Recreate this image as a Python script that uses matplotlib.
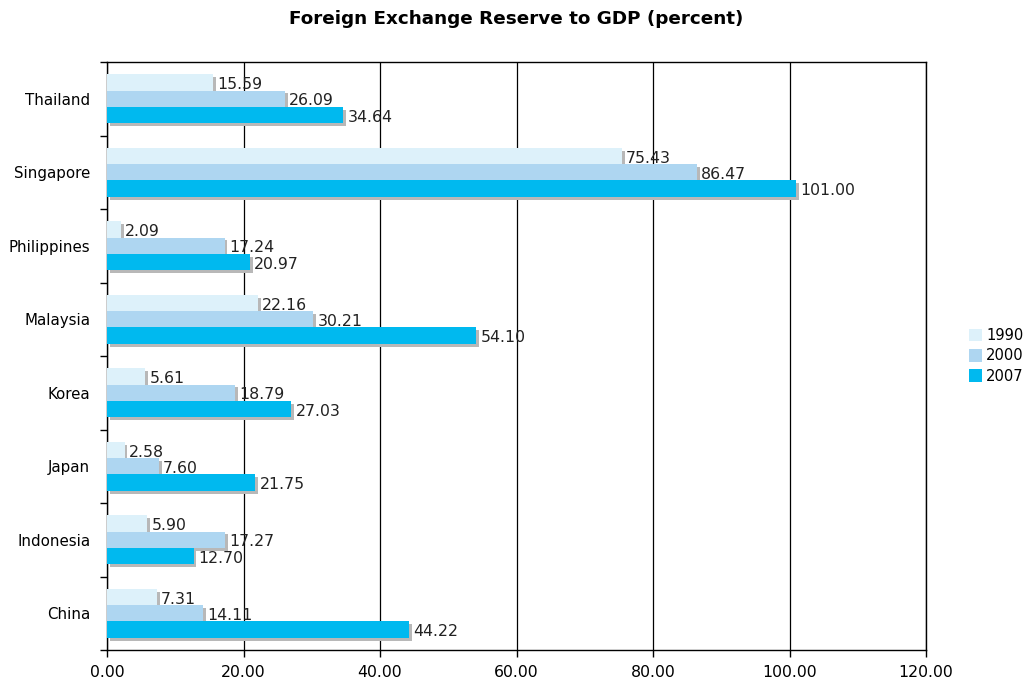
import matplotlib.pyplot as plt
import matplotlib.patheffects as pe
from matplotlib.patches import Patch
import numpy as np

countries = ["China", "Indonesia", "Japan", "Korea", "Malaysia",
             "Philippines", "Singapore", "Thailand"]
years = ["1990", "2000", "2007"]
reserves_1990 = [7.31, 5.90, 2.58, 5.61, 22.16, 2.09, 75.43, 15.59]
reserves_2000 = [14.11, 17.27, 7.60, 18.79, 30.21, 17.24, 86.47, 26.09]
reserves_2007 = [44.22, 12.70, 21.75, 27.03, 54.10, 20.97, 101.00, 34.64]

colors = ["#DDF1FA", "#AED6F1", "#00B9EF"]
series = [reserves_1990, reserves_2000, reserves_2007]

plt.rcParams["font.family"] = ["DejaVu Sans"]

fig = plt.figure(figsize=(10.33, 6.83), dpi=100)
ax = fig.add_axes([107 / 1033, 1 - 650 / 683, (926 - 107) / 1033, (650 - 62) / 683])

y = np.arange(len(countries))
h = 0.222
shadow = [pe.SimplePatchShadow(offset=(2, -2), shadow_rgbFace="#B8B8B8", alpha=1.0), pe.Normal()]

for i, (vals, col) in enumerate(zip(series, colors)):
    pos = y + (1 - i) * h
    bars = ax.barh(pos, vals, height=h, color=col, zorder=3, linewidth=0)
    for b in bars:
        b.set_path_effects(shadow)
    for p, v in zip(pos, vals):
        ax.text(v + 0.6, p - 0.03, f"{v:.2f}", va="center", ha="left",
                fontsize=11.3, color="#222222", zorder=4)

ax.set_xlim(0, 120)
ax.set_ylim(-0.5, len(countries) - 0.5)
ax.set_xticks(np.arange(0, 121, 20))
ax.set_xticklabels([f"{v:.2f}" for v in np.arange(0, 121, 20)], fontsize=11.3)
ax.xaxis.grid(True, color="black", linewidth=0.9, zorder=0)
ax.tick_params(axis="x", length=5, width=1, direction="out", pad=6)

# category labels at centres, tick marks at group boundaries
ax.set_yticks(np.arange(-0.5, len(countries), 1))
ax.set_yticklabels([])
ax.tick_params(axis="y", which="major", length=5, width=1, direction="out")
ax.set_yticks(y, minor=True)
ax.set_yticklabels(countries, minor=True, fontsize=10.8)
ax.tick_params(axis="y", which="minor", length=0, pad=12)

for s in ax.spines.values():
    s.set_color("black")
    s.set_linewidth(1)

fig.text(0.5, 1 - 19 / 683, "Foreign Exchange Reserve to GDP (percent)",
         ha="center", va="center", fontsize=13.2, fontweight="bold")

handles = [Patch(facecolor=c, edgecolor="none", label=yr) for c, yr in zip(colors, years)]
ax.legend(handles=handles, loc="center left", bbox_to_anchor=(1.04, 0.5), frameon=False,
          fontsize=10.6, handlelength=0.9, handleheight=0.9, borderpad=0.2,
          handletextpad=0.25, labelspacing=0.35)

fig.savefig("out.png", dpi=100)
